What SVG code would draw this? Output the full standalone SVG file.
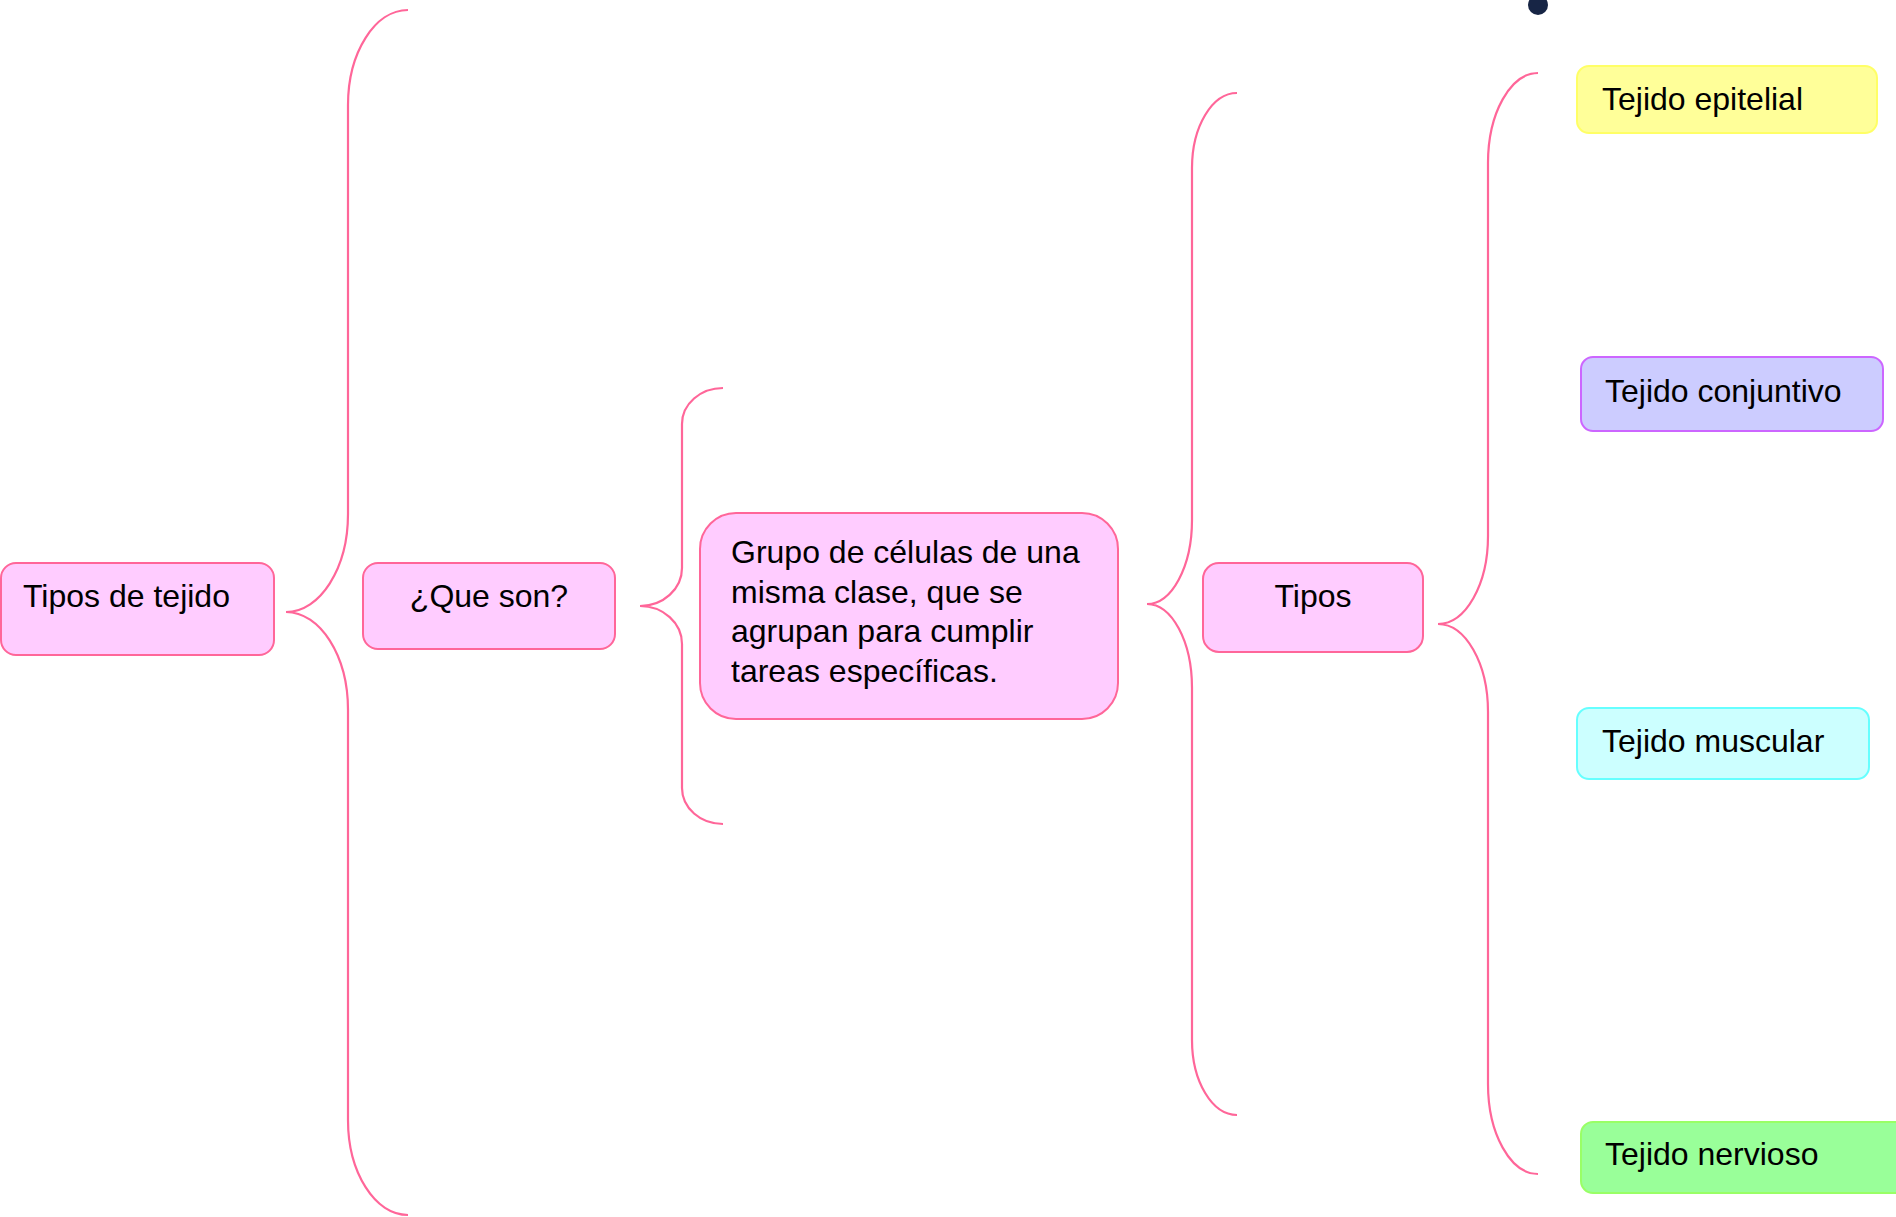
<svg xmlns="http://www.w3.org/2000/svg" width="1896" height="1217" viewBox="0 0 1896 1217">
<style>
.pink{fill:#ffccff;stroke:#ff6699;stroke-width:2}
.t{font-family:"Liberation Sans",Arial,sans-serif;font-size:32px;fill:#000}
.c{text-anchor:middle}
.br{fill:none;stroke:#ff6699;stroke-width:2.2}
</style>
<rect width="1896" height="1217" fill="#fff"/>
<g id="connectors">
<path class="br" d="M 408 10 C 374.9 10 348 52.5 348 105 L 348 514 C 348 568.1 320.2 612 286 612 C 320.2 612 348 655.9 348 710 L 348 1120 C 348 1172.5 374.9 1215 408 1215"/>
<path class="br" d="M 723 388 C 700.4 388 682 404.1 682 424 L 682 568 C 682 589 663.2 606 640 606 C 663.2 606 682 623 682 644 L 682 788 C 682 807.9 700.4 824 723 824"/>
<path class="br" d="M 1237 93 C 1212.1 93 1192 126.6 1192 168 L 1192 520 C 1192 566.4 1171.9 604 1147 604 C 1171.9 604 1192 641.6 1192 688 L 1192 1040 C 1192 1081.4 1212.1 1115 1237 1115"/>
<path class="br" d="M 1538 73 C 1510.4 73 1488 113.3 1488 163 L 1488 536 C 1488 584.6 1465.6 624 1438 624 C 1465.6 624 1488 663.4 1488 712 L 1488 1084 C 1488 1133.7 1510.4 1174 1538 1174"/>
</g>
<circle cx="1538" cy="5" r="10" fill="#172545"/>
<g id="n-tipos-tejido">
<rect class="pink" x="1" y="563" width="273" height="92" rx="15"/>
<text class="t" x="23" y="607">Tipos de tejido</text>
</g>
<g id="n-que-son">
<rect class="pink" x="363" y="563" width="252" height="86" rx="15"/>
<text class="t c" x="489" y="607">¿Que son?</text>
</g>
<g id="n-definicion">
<rect class="pink" x="700" y="513" width="418" height="206" rx="36"/>
<text class="t" x="731" y="563">Grupo de células de una</text>
<text class="t" x="731" y="602.5">misma clase, que se</text>
<text class="t" x="731" y="642">agrupan para cumplir</text>
<text class="t" x="731" y="681.5">tareas específicas.</text>
</g>
<g id="n-tipos">
<rect class="pink" x="1203" y="563" width="220" height="89" rx="16"/>
<text class="t c" x="1313" y="607">Tipos</text>
</g>
<g id="n-epitelial">
<rect x="1577" y="66" width="300" height="67" rx="12" fill="#ffff99" stroke="#ffff66" stroke-width="2"/>
<text class="t" x="1602" y="110">Tejido epitelial</text>
</g>
<g id="n-conjuntivo">
<rect x="1581" y="357" width="302" height="74" rx="12" fill="#ccccff" stroke="#cc66ff" stroke-width="2"/>
<text class="t" x="1605" y="402">Tejido conjuntivo</text>
</g>
<g id="n-muscular">
<rect x="1577" y="708" width="292" height="71" rx="12" fill="#ccffff" stroke="#66ffff" stroke-width="2"/>
<text class="t" x="1602" y="752">Tejido muscular</text>
</g>
<g id="n-nervioso">
<rect x="1581" y="1122" width="330" height="71" rx="12" fill="#99ff99" stroke="#99ff66" stroke-width="2"/>
<text class="t" x="1605" y="1165">Tejido nervioso</text>
</g>
</svg>
